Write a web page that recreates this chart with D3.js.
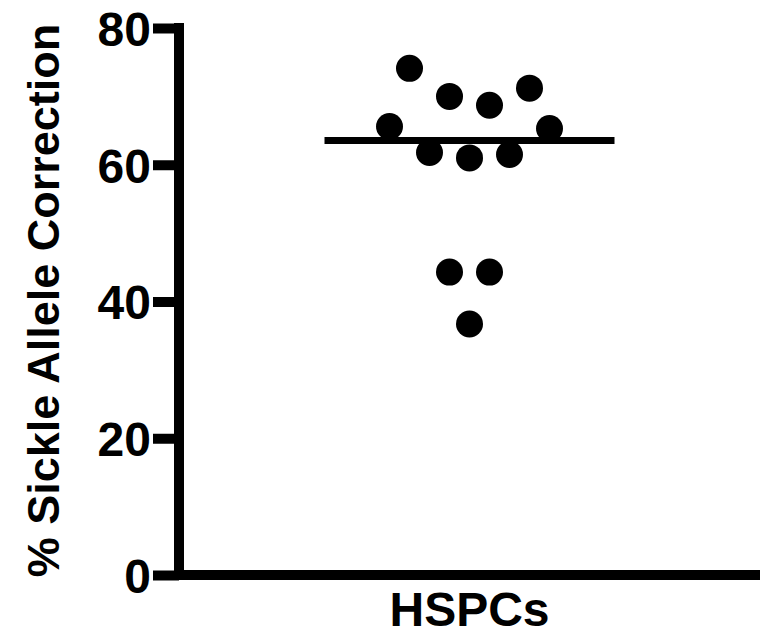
<!DOCTYPE html>
<html lang="en">
<head>
<meta charset="UTF-8">
<title>% Sickle Allele Correction</title>
<style>
  body { margin: 0; background: #fff; }
  svg text { font-family: "Liberation Sans", Arial, sans-serif; font-weight: bold; fill: #000; }
</style>
<script src="https://d3js.org/d3.v7.min.js"></script>
</head>
<body>
<script>
// data
const categories = ["HSPCs"];
const correction = [74.1, 70.0, 68.7, 71.2, 65.6, 65.3, 61.8, 61.0, 61.5, 44.3, 44.3, 36.7];
// horizontal scatter column of each point (Prism style spread)
const spreadSlot = [-3, -1, 1, 3, -4, 4, -2, 0, 2, -1, 1, 0];
const yTicks = [0, 20, 40, 60, 80];
const yLabel = "% Sickle Allele Correction";

const width = 770, height = 637;
const margin = { top: 28, right: 10, bottom: 62, left: 179 };

const svg = d3.select("body").append("svg")
  .attr("width", width)
  .attr("height", height);

const y = d3.scaleLinear().domain([0, 80]).range([height - margin.bottom, margin.top]);
const x = d3.scaleBand().domain(categories).range([margin.left, width - margin.right]);
const spread = d3.scaleLinear().domain([-4, 4]).range([-80, 80]);

// y axis
const yAxis = svg.append("g")
  .attr("transform", `translate(${margin.left},0)`)
  .call(d3.axisLeft(y).tickValues(yTicks).tickFormat(d3.format("d")).tickSize(26).tickSizeOuter(0).tickPadding(2));
yAxis.select(".domain").remove();
yAxis.selectAll(".tick line").attr("stroke", "#000").attr("stroke-width", 10);
yAxis.selectAll(".tick text").attr("font-size", 48).attr("dy", "0.36em");
yAxis.append("line")
  .attr("x1", 0).attr("x2", 0)
  .attr("y1", y(80)).attr("y2", y(0))
  .attr("stroke", "#000").attr("stroke-width", 10).attr("stroke-linecap", "square");

// x axis
svg.append("line")
  .attr("x1", x.range()[0] - 5).attr("x2", x.range()[1])
  .attr("y1", y(0)).attr("y2", y(0))
  .attr("stroke", "#000").attr("stroke-width", 10);
svg.selectAll(".cat").data(categories).enter().append("text")
  .attr("class", "cat")
  .attr("x", d => x(d) + x.bandwidth() / 2)
  .attr("y", 626)
  .attr("text-anchor", "middle")
  .attr("font-size", 48)
  .text(d => d);

// y label
svg.append("text")
  .attr("transform", `translate(59,${(y(0) + y(80)) / 2 - 1}) rotate(-90)`)
  .attr("text-anchor", "middle")
  .attr("font-size", 45)
  .text(yLabel);

// points
const cx = x(categories[0]) + x.bandwidth() / 2;
svg.append("g").selectAll("circle")
  .data(correction).enter().append("circle")
  .attr("cx", (d, i) => cx + spread(spreadSlot[i]))
  .attr("cy", d => y(d))
  .attr("r", 13.5)
  .attr("fill", "#000");

// median line
const med = d3.median(correction);
svg.append("line")
  .attr("x1", cx - 145).attr("x2", cx + 145)
  .attr("y1", y(med)).attr("y2", y(med))
  .attr("stroke", "#000").attr("stroke-width", 7);
</script>
</body>
</html>
